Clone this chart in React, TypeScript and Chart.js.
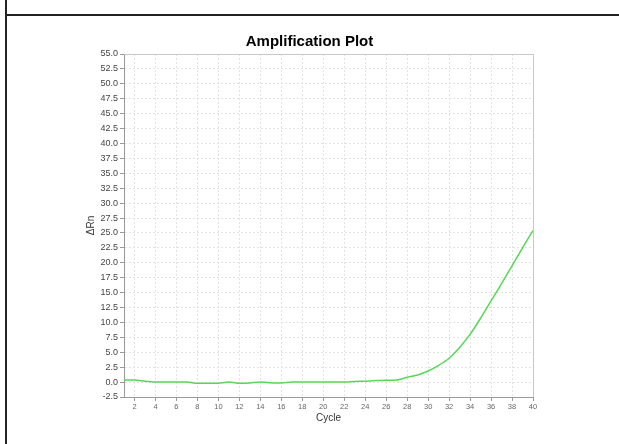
import React, { useEffect, useRef } from "react";
import { Chart, registerables } from "chart.js";

Chart.register(...registerables);

const cycles: number[] = [
  1, 2, 3, 4, 5, 6, 7, 8, 9, 10, 11, 12, 13, 14, 15, 16, 17, 18, 19, 20,
  21, 22, 23, 24, 25, 26, 27, 28, 29, 30, 31, 32, 33, 34, 35, 36, 37, 38, 39, 40,
];
const deltaRn: number[] = [
  0.35, 0.35, 0.15, 0.0, 0.0, 0.0, 0.0, -0.2, -0.2, -0.2,
  0.0, -0.2, -0.15, 0.0, -0.1, -0.15, 0.0, 0.0, 0.0, 0.0,
  0.0, 0.0, 0.1, 0.15, 0.25, 0.3, 0.35, 0.8, 1.2, 1.85,
  2.8, 4.0, 5.8, 8.0, 10.7, 13.6, 16.5, 19.5, 22.5, 25.4,
];
const xTicks: number[] = [2, 4, 6, 8, 10, 12, 14, 16, 18, 20, 22, 24, 26, 28, 30, 32, 34, 36, 38, 40];
const yMin = -2.5;
const yMax = 55;
const yStep = 2.5;

const borderPlugin = {
  id: "topRightBorder",
  afterDraw(chart: any) {
    const { ctx, chartArea } = chart;
    ctx.save();
    ctx.strokeStyle = "#c8c8c8";
    ctx.lineWidth = 1;
    ctx.beginPath();
    ctx.moveTo(chartArea.left, chartArea.top + 0.5);
    ctx.lineTo(chartArea.right + 0.5, chartArea.top + 0.5);
    ctx.lineTo(chartArea.right + 0.5, chartArea.bottom);
    ctx.stroke();
    ctx.restore();
  },
};

export default function App() {
  const ref = useRef<HTMLCanvasElement | null>(null);

  useEffect(() => {
    if (!ref.current) return;
    const chart = new Chart(ref.current, {
      type: "line",
      data: {
        datasets: [
          {
            data: cycles.map((c, i) => ({ x: c, y: deltaRn[i] })),
            borderColor: "#55d955",
            borderWidth: 1.5,
            pointRadius: 0,
            tension: 0.2,
            fill: false,
          },
        ],
      },
      options: {
        responsive: false,
        animation: false,
        layout: { padding: { left: 0, right: 0, top: 33, bottom: 0 } },
        plugins: {
          legend: { display: false },
          tooltip: { enabled: false },
          title: {
            display: true,
            text: "Amplification Plot",
            color: "#000",
            font: { family: "Arial, 'Liberation Sans'", size: 15, weight: "bold" },
            padding: { top: 0, bottom: 3 },
          },
        },
        scales: {
          x: {
            type: "linear",
            min: 1,
            max: 40,
            afterBuildTicks: (s: any) => {
              s.ticks = xTicks.map((v) => ({ value: v }));
            },
            afterFit: (s: any) => {
              s.height = 47;
            },
            ticks: {
              color: "#666",
              font: { family: "Arial, 'Liberation Sans'", size: 7.5 },
              padding: 1,
              maxRotation: 0,
              autoSkip: false,
            },
            grid: {
              color: "#e2e2e2",
              tickColor: "#999",
              tickLength: 4,
            },
            border: { color: "#999", width: 1, dash: [2, 2] },
            title: {
              display: true,
              text: "Cycle",
              color: "#333",
              font: { family: "Arial, 'Liberation Sans'", size: 10 },
              padding: { top: 0, bottom: 20 },
            },
          },
          y: {
            type: "linear",
            min: yMin,
            max: yMax,
            afterFit: (s: any) => {
              s.width = 124;
            },
            ticks: {
              stepSize: yStep,
              color: "#444",
              font: { family: "Arial, 'Liberation Sans'", size: 9 },
              padding: 2,
              callback: (v: any) => Number(v).toFixed(1),
            },
            grid: {
              color: "#e2e2e2",
              tickColor: "#999",
              tickLength: 4,
            },
            border: { color: "#999", width: 1, dash: [2, 2] },
            title: {
              display: true,
              text: "ΔRn",
              color: "#333",
              font: { family: "Arial, 'Liberation Sans'", size: 10 },
              padding: { top: 85, bottom: 0 },
            },
          },
          yR: {
            type: "linear",
            position: "right",
            display: true,
            afterFit: (s: any) => {
              s.width = 86;
            },
            ticks: { display: false },
            grid: { display: false },
            border: { display: false },
          },
        },
      },
      plugins: [borderPlugin],
    } as any);
    return () => chart.destroy();
  }, []);

  return (
    <div style={{ position: "absolute", left: 0, top: 0, width: 619, height: 444, background: "#fff" }}>
      <canvas ref={ref} width={619} height={444} style={{ position: "absolute", left: 0, top: 0, width: 619, height: 444 }} />
      <div style={{ position: "absolute", left: 5, top: 0, width: 2, height: 444, background: "#222" }} />
      <div style={{ position: "absolute", left: 5, top: 14, width: 614, height: 2, background: "#222" }} />
    </div>
  );
}
